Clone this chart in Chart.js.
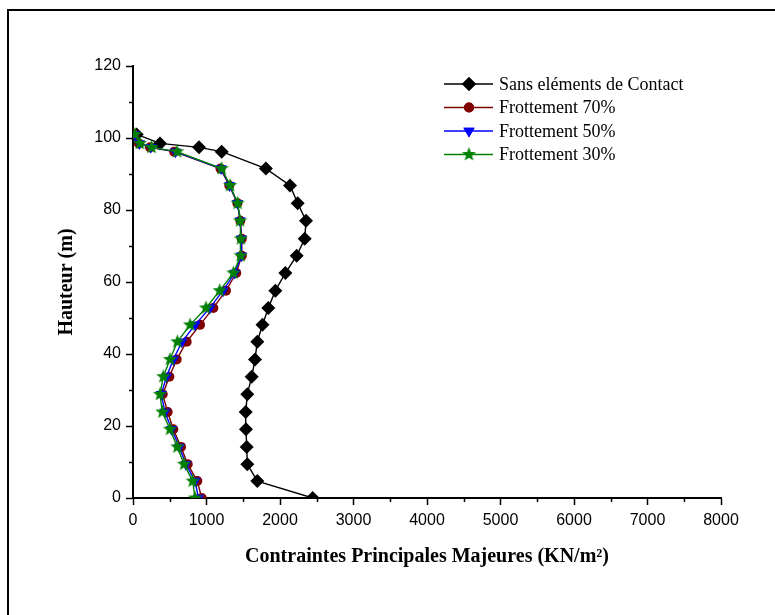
<!DOCTYPE html>
<html>
<head>
<meta charset="utf-8">
<script src="https://cdn.jsdelivr.net/npm/chart.js@4/dist/chart.umd.min.js"></script>
<style>
  html, body { margin: 0; padding: 0; background: #fff; }
  #wrap { position: relative; width: 775px; height: 615px; overflow: hidden; }
  #frame { position: absolute; left: 7px; top: 9px; width: 800px; height: 700px;
           border-left: 2px solid #000; border-top: 2px solid #000; }
  #c { position: absolute; left: 0; top: 0; }
</style>
</head>
<body>
<div id="wrap">
  <div id="frame"></div>
  <canvas id="c" width="775" height="615"></canvas>
</div>
<script>
// Heights along the wall (m)
const hauteurs = [0, 4.7, 9.4, 14.2, 19.1, 23.9, 28.8, 33.7, 38.5, 43.4, 48.1, 52.8,
                  57.6, 62.5, 67.3, 72.0, 77.0, 81.9, 86.8, 91.5, 96.2, 97.4, 98.5, 101.0];

// Major principal stresses (kN/m2) for each case
const sansContact = [2445, 1691, 1555, 1547, 1537, 1533, 1555, 1615, 1660, 1691, 1762, 1841,
                     1937, 2073, 2227, 2336, 2354, 2241, 2136, 1808, 1207, 898, 367, 50];
const frottement70 = [935, 875, 744, 653, 548, 472, 404, 495, 594, 730, 912, 1093,
                      1265, 1405, 1480, 1480, 1460, 1420, 1310, 1190, 560, 231, 80, 20];
const frottement50 = [890, 845, 720, 630, 525, 435, 385, 455, 550, 665, 845, 1045,
                      1225, 1385, 1475, 1475, 1458, 1422, 1315, 1198, 578, 242, 88, 24];
const frottement30 = [844, 812, 694, 603, 503, 399, 367, 412, 503, 603, 776, 993,
                      1180, 1365, 1465, 1467, 1456, 1424, 1320, 1207, 600, 254, 95, 27];

const seriesNames = ['Sans eléments de Contact', 'Frottement 70%', 'Frottement 50%', 'Frottement 30%'];
const xTicks = [0, 1000, 2000, 3000, 4000, 5000, 6000, 7000, 8000];
const yTicks = [0, 20, 40, 60, 80, 100, 120];

// Filled five-pointed star used as a point marker
function makeStar(r, color) {
  const s = Math.ceil(r * 2 + 2);
  const cv = document.createElement('canvas');
  cv.width = s; cv.height = s;
  const g = cv.getContext('2d');
  g.translate(s / 2, s / 2);
  g.beginPath();
  for (let i = 0; i < 10; i++) {
    const rr = i % 2 === 0 ? r : r * 0.42;
    const a = -Math.PI / 2 + i * Math.PI / 5;
    g.lineTo(rr * Math.cos(a), rr * Math.sin(a));
  }
  g.closePath();
  g.fillStyle = color;
  g.fill();
  return cv;
}
const starGreen = makeStar(7.5, '#008000');

const toPoints = vals => vals.map((v, i) => ({ x: v, y: hauteurs[i] }));

const datasets = [
  { label: seriesNames[0], data: toPoints(sansContact), borderColor: '#000', backgroundColor: '#000',
    pointStyle: 'rectRot', pointRadius: 7, borderWidth: 1.4, pointBorderWidth: 0, order: 3 },
  { label: seriesNames[1], data: toPoints(frottement70), borderColor: '#800000', backgroundColor: '#800000',
    pointStyle: 'circle', pointRadius: 5, borderWidth: 1.4, pointBorderWidth: 0, order: 2 },
  { label: seriesNames[2], data: toPoints(frottement50), borderColor: '#0000ff', backgroundColor: '#0000ff',
    pointStyle: 'triangle', pointRotation: 180, pointRadius: 6.5, borderWidth: 1.4, pointBorderWidth: 0, order: 1 },
  { label: seriesNames[3], data: toPoints(frottement30), borderColor: '#008000', backgroundColor: '#008000',
    pointStyle: starGreen, pointRadius: 7, borderWidth: 1.4, pointBorderWidth: 0, order: 0 }
];

// Short minor ticks halfway between the labelled ones
const minorTicks = {
  id: 'minorTicks',
  afterDraw(chart) {
    const { ctx, scales: { x, y } } = chart;
    ctx.save();
    ctx.strokeStyle = '#000';
    ctx.lineWidth = 1.5;
    ctx.beginPath();
    for (let v = 500; v < 8000; v += 1000) {
      const px = Math.round(x.getPixelForValue(v)) + 0.5;
      ctx.moveTo(px, y.bottom); ctx.lineTo(px, y.bottom + 4);
    }
    for (let v = 10; v < 120; v += 20) {
      const py = Math.round(y.getPixelForValue(v)) + 0.5;
      ctx.moveTo(x.left, py); ctx.lineTo(x.left - 4, py);
    }
    ctx.stroke();
    ctx.restore();
  }
};

// Legend: line with marker, then the series name
const legendBox = {
  id: 'legendBox',
  afterDraw(chart) {
    const ctx = chart.ctx;
    const x0 = 444, x1 = 493, xm = 469, xt = 499;
    const rows = [84, 107.5, 131, 154.5];
    ctx.save();
    chart.data.datasets.forEach((ds, i) => {
      const yy = rows[i];
      ctx.strokeStyle = ds.borderColor;
      ctx.lineWidth = 1.4;
      ctx.beginPath(); ctx.moveTo(x0, yy); ctx.lineTo(x1, yy); ctx.stroke();
      if (ds.pointStyle instanceof HTMLCanvasElement) {
        const im = ds.pointStyle;
        ctx.drawImage(im, xm - im.width / 2, yy - im.height / 2);
      } else {
        ctx.fillStyle = ds.backgroundColor;
        Chart.helpers.drawPoint(ctx, {
          pointStyle: ds.pointStyle, rotation: ds.pointRotation || 0,
          radius: ds.pointRadius, borderWidth: 0
        }, xm, yy);
        ctx.fill();
      }
      ctx.fillStyle = '#000';
      ctx.font = '18px "Liberation Serif", "Times New Roman", serif';
      ctx.textBaseline = 'middle';
      ctx.textAlign = 'left';
      ctx.fillText(ds.label, xt, yy + 1);
    });
    ctx.restore();
  }
};

const tickFont = { family: '"Liberation Sans", Arial, sans-serif', size: 16 };
const titleFont = { family: '"Liberation Serif", "Times New Roman", serif', size: 20, weight: 'bold' };

new Chart(document.getElementById('c'), {
  type: 'scatter',
  data: { datasets },
  options: {
    responsive: false,
    animation: false,
    showLine: true,
    layout: { padding: { left: 0, right: 54, top: 66, bottom: 0 } },
    plugins: { legend: { display: false }, tooltip: { enabled: false } },
    elements: { line: { tension: 0 } },
    scales: {
      x: {
        type: 'linear', min: 0, max: 8000,
        afterFit: s => { s.height = 117; },
        afterBuildTicks: s => { s.ticks = xTicks.map(v => ({ value: v })); },
        grid: { drawOnChartArea: false, drawTicks: true, tickLength: 7, tickWidth: 1.5, tickColor: '#000' },
        border: { color: '#000', width: 2 },
        ticks: { color: '#000', font: tickFont, padding: 6, maxRotation: 0, callback: v => String(v) },
        title: { display: true, text: 'Contraintes Principales Majeures (KN/m²)', color: '#000',
                 font: titleFont, padding: { top: 0, bottom: 46 } }
      },
      y: {
        type: 'linear', min: 0, max: 120,
        afterFit: s => { s.width = 133; },
        afterBuildTicks: s => { s.ticks = yTicks.map(v => ({ value: v })); },
        grid: { drawOnChartArea: false, drawTicks: true, tickLength: 7, tickWidth: 1.5, tickColor: '#000' },
        border: { color: '#000', width: 2 },
        ticks: { color: '#000', font: tickFont, padding: 5, callback: v => String(v) },
        title: { display: true, text: 'Hauteur (m)', color: '#000',
                 font: titleFont, padding: { top: 55, bottom: 0 } }
      }
    }
  },
  plugins: [minorTicks, legendBox]
});
</script>
</body>
</html>
